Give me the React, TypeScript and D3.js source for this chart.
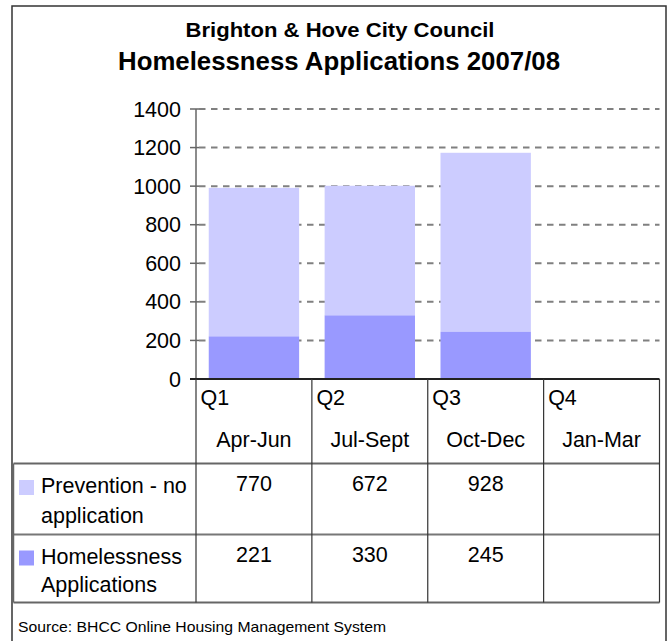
import React from "react";
import * as d3 from "d3";

const quarters = ["Q1", "Q2", "Q3", "Q4"];
const periods = ["Apr-Jun", "Jul-Sept", "Oct-Dec", "Jan-Mar"];
const homelessness: (number | null)[] = [221, 330, 245, null];
const prevention: (number | null)[] = [770, 672, 928, null];
const yTicks = [0, 200, 400, 600, 800, 1000, 1200, 1400];
const titleLine1 = "Brighton & Hove City Council";
const titleLine2 = "Homelessness Applications 2007/08";
const seriesNames = [["Prevention - no", "application"], ["Homelessness", "Applications"]];
const sourceText = "Source: BHCC Online Housing Management System";

const COLORS = { prevention: "#CCCCFF", homeless: "#9999FF" };
const FONT = "'Liberation Sans', Arial, Helvetica, sans-serif";

export default function App() {
  const W = 670, H = 641;
  const plotL = 196, plotR = 659.5, plotT = 109, plotB = 379;
  const x = d3.scaleBand<string>().domain(quarters).range([plotL, plotR]).paddingInner(0.22).paddingOuter(0.11);
  const col = d3.scaleBand<string>().domain(quarters).range([plotL, plotR]);
  const y = d3.scaleLinear().domain([0, 1400]).range([plotB, plotT]);

  const rowTop = plotB, headerBottom = 463.5, row1Bottom = 534.5, row2Bottom = 602.5;
  const tableL = 13.5;
  const fs = 21.5;

  return (
    <svg width={W} height={H} style={{ position: "absolute", left: 0, top: 0, background: "#fff" }} fontFamily={FONT}>
      <rect x={0} y={0} width={W} height={H} fill="#fff" />
      {/* outer border */}
      <rect x={12} y={6} width={654} height={H + 10} fill="none" stroke="#333" strokeWidth={1.5} />
      {/* titles */}
      <text x={340} y={37} textAnchor="middle" fontWeight="bold" fontSize={19.5} textLength={309} lengthAdjust="spacingAndGlyphs">{titleLine1}</text>
      <text x={339} y={70} textAnchor="middle" fontWeight="bold" fontSize={25} textLength={442} lengthAdjust="spacingAndGlyphs">{titleLine2}</text>

      {/* gridlines */}
      {yTicks.filter((t) => t > 0).map((t) => (
        <line key={"g" + t} x1={199} x2={plotR} y1={y(t)} y2={y(t)} stroke="#808080" strokeWidth={2} strokeDasharray="6.5,5.5" />
      ))}

      {/* bars */}
      {quarters.map((q, i) => {
        const h = homelessness[i];
        const p = prevention[i];
        if (h == null || p == null) return null;
        return (
          <g key={"b" + q}>
            <rect x={x(q)} width={x.bandwidth()} y={y(h + p)} height={y(h) - y(h + p)} fill={COLORS.prevention} />
            <rect x={x(q)} width={x.bandwidth()} y={y(h)} height={y(0) - y(h)} fill={COLORS.homeless} />
          </g>
        );
      })}

      {/* y axis */}
      <line x1={plotL} x2={plotL} y1={plotT} y2={plotB} stroke="#666" strokeWidth={1.5} />
      {yTicks.map((t) => (
        <g key={"t" + t}>
          <line x1={190} x2={t === 0 ? plotL : 199} y1={y(t)} y2={y(t)} stroke="#666" strokeWidth={1.5} />
          <text x={181} y={y(t)} dy="0.35em" textAnchor="end" fontSize={fs}>{t}</text>
        </g>
      ))}
      {/* x axis baseline */}
      <line x1={190} x2={plotR} y1={plotB} y2={plotB} stroke="#222" strokeWidth={2} />

      {/* data table */}
      <line x1={tableL} x2={plotR} y1={headerBottom} y2={headerBottom} stroke="#666" strokeWidth={2} />
      <line x1={tableL} x2={plotR} y1={row1Bottom} y2={row1Bottom} stroke="#777" strokeWidth={2} />
      <line x1={tableL} x2={plotR} y1={row2Bottom} y2={row2Bottom} stroke="#666" strokeWidth={2} />
      <line x1={tableL} x2={tableL} y1={headerBottom} y2={row2Bottom} stroke="#666" strokeWidth={1.5} />
      {quarters.map((q) => (
        <line key={"c" + q} x1={col(q)!} x2={col(q)!} y1={rowTop} y2={row2Bottom} stroke="#333" strokeWidth={1.2} />
      ))}
      <line x1={plotR} x2={plotR} y1={rowTop} y2={row2Bottom} stroke="#333" strokeWidth={1.2} />

      {quarters.map((q, i) => (
        <g key={"h" + q} fontSize={fs}>
          <text x={col(q)! + 4.5} y={405}>{q}</text>
          <text x={col(q)! + col.bandwidth() / 2} y={447} textAnchor="middle">{periods[i]}</text>
          {prevention[i] != null && (
            <text x={col(q)! + col.bandwidth() / 2} y={491} textAnchor="middle">{prevention[i]}</text>
          )}
          {homelessness[i] != null && (
            <text x={col(q)! + col.bandwidth() / 2} y={561.5} textAnchor="middle">{homelessness[i]}</text>
          )}
        </g>
      ))}

      {/* row labels with legend keys */}
      <rect x={19} y={480} width={15} height={15} fill={COLORS.prevention} />
      <text x={41} y={493} fontSize={fs}>{seriesNames[0][0]}</text>
      <text x={41} y={523} fontSize={fs}>{seriesNames[0][1]}</text>
      <rect x={19} y={550.5} width={15} height={15} fill={COLORS.homeless} />
      <text x={41} y={563.5} fontSize={fs}>{seriesNames[1][0]}</text>
      <text x={41} y={592} fontSize={fs}>{seriesNames[1][1]}</text>

      {/* source */}
      <text x={18} y={631.5} fontSize={15} textLength={368} lengthAdjust="spacingAndGlyphs">{sourceText}</text>
    </svg>
  );
}
